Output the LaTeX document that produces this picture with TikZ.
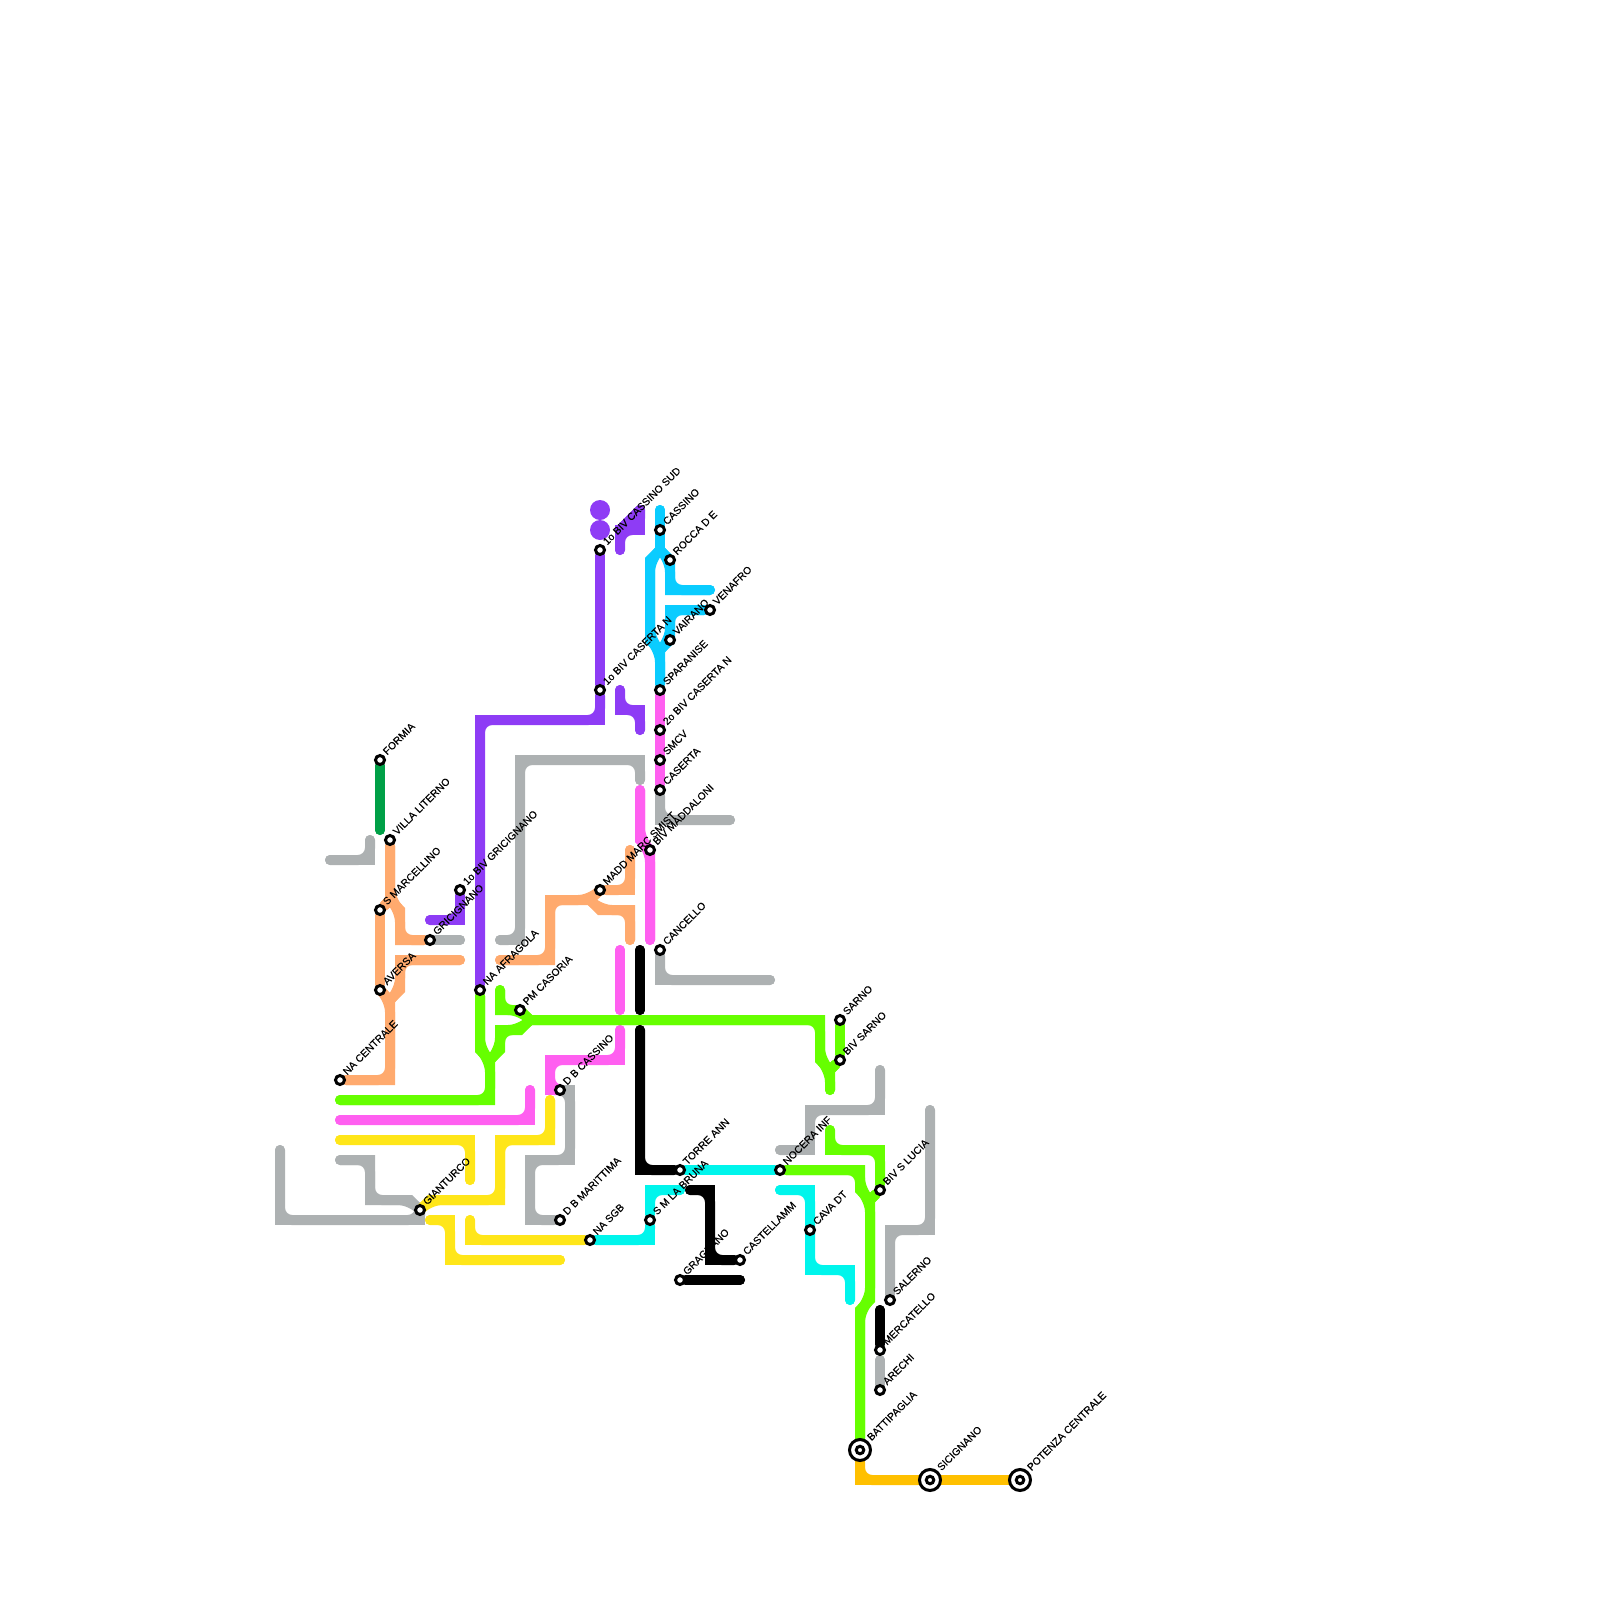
\documentclass[tikz,border=0pt]{standalone}
\usepackage{fontspec}
\setmainfont{Liberation Sans}
\newfontfamily\lblfont[FakeBold=0.25]{Liberation Sans}
\usetikzlibrary{positioning,backgrounds}
\definecolor{lineforest}{HTML}{00A047}
\definecolor{lineorange}{HTML}{FFAA6E}
\definecolor{linepurple}{HTML}{8E3CF5}
\definecolor{lineblue}{HTML}{0ACCFF}
\definecolor{linepink}{HTML}{FF5FF0}
\definecolor{linegreen}{HTML}{66FF00}
\definecolor{lineyellow}{HTML}{FFE619}
\definecolor{linegray}{HTML}{ADB1B2}
\definecolor{linecyan}{HTML}{00F5EC}
\definecolor{lineamber}{HTML}{FFC000}
\tikzset{
  stn/.style    ={circle,draw=black,fill=white,line width=3pt,minimum size=9pt,inner sep=0pt},
  bigstn/.style ={circle,draw=black,fill=white,line width=3pt,minimum size=21pt,inner sep=0pt},
  stnin/.style  ={circle,draw=black,fill=white,line width=3pt,minimum size=7.5pt,inner sep=0pt},
  dot/.style    ={circle,fill=linepurple,minimum size=20pt,inner sep=0pt},
  lbl/.style    ={rotate=45,inner sep=0pt,text depth=0pt,text=black,
                  font=\lblfont\fontsize{10.3}{12}\selectfont},
  tube/.style   ={draw,line width=10pt,line cap=round,line join=miter}
}
\newcommand{\tube}[2]{%
  \draw [tube, #1] #2;
  \draw [tube, #1, rounded corners=12pt] #2;
}
\begin{document}
\begin{tikzpicture}[x=1pt,y=-1pt,node distance=0pt and 3pt]
  \useasboundingbox (0,0) rectangle (1600,1600);

  % Stations
  \node (formia)    [stn] at (380,760)   {};
  \node (villa)     [stn] at (390,840)   {};
  \node (marcel)    [stn] at (380,910)   {};
  \node (bivgric)   [stn] at (460,890)   {};
  \node (gricign)   [stn] at (430,940)   {};
  \node (aversa)    [stn] at (380,990)   {};
  \node (afragola)  [stn] at (480,990)   {};
  \node (casoria)   [stn] at (520,1010)  {};
  \node (centrale)  [stn] at (340,1080)  {};
  \node (dbcassino) [stn] at (560,1090)  {};
  \node (bivsud)    [stn] at (600,550)   {};
  \node (bivnord)   [stn] at (600,690)   {};
  \node (cassino)   [stn] at (660,530)   {};
  \node (rocca)     [stn] at (670,560)   {};
  \node (venafro)   [stn] at (710,610)   {};
  \node (vairano)   [stn] at (670,640)   {};
  \node (sparanise) [stn] at (660,690)   {};
  \node (bivcaserta)[stn] at (660,730)   {};
  \node (smcv)      [stn] at (660,760)   {};
  \node (caserta)   [stn] at (660,790)   {};
  \node (smist)     [stn] at (600,890)   {};
  \node (maddaloni) [stn] at (650,850)   {};
  \node (cancello)  [stn] at (660,950)   {};
  \node (sarno)     [stn] at (840,1020)  {};
  \node (bivsarno)  [stn] at (840,1060)  {};
  \node (gianturco) [stn] at (420,1210)  {};
  \node (marittima) [stn] at (560,1220)  {};
  \node (nasgb)     [stn] at (590,1240)  {};
  \node (torre)     [stn] at (680,1170)  {};
  \node (bruna)     [stn] at (650,1220)  {};
  \node (nocera)    [stn] at (780,1170)  {};
  \node (cava)      [stn] at (810,1230)  {};
  \node (castell)   [stn] at (740,1260)  {};
  \node (gragnano)  [stn] at (680,1280)  {};
  \node (lucia)     [stn] at (880,1190)  {};
  \node (salerno)   [stn] at (890,1300)  {};
  \node (mercat)    [stn] at (880,1350)  {};
  \node (arechi)    [stn] at (880,1390)  {};
  \node (battip)    [bigstn] at (860,1450)  {};
  \node (sicign)    [bigstn] at (930,1480)  {};
  \node (potenza)   [bigstn] at (1020,1480) {};
  \node (battipin)  [stnin, at=(battip.center)]  {};
  \node (sicignin)  [stnin, at=(sicign.center)]  {};
  \node (potenzain) [stnin, at=(potenza.center)] {};
  \node (dota)      [dot] at (600,510) {};
  \node (dotb)      [dot] at (600,530) {};

  % Labels
  \node (formiatxt)    [lbl, above right=of formia]     {FORMIA};
  \node (villatxt)     [lbl, above right=of villa]      {VILLA LITERNO};
  \node (marceltxt)    [lbl, above right=of marcel]     {S MARCELLINO};
  \node (bivgrictxt)   [lbl, above right=of bivgric]    {1o BIV GRICIGNANO};
  \node (gricigntxt)   [lbl, above right=of gricign]    {GRICIGNANO};
  \node (aversatxt)    [lbl, above right=of aversa]     {AVERSA};
  \node (afragolatxt)  [lbl, above right=of afragola]   {NA AFRAGOLA};
  \node (casoriatxt)   [lbl, above right=of casoria]    {PM CASORIA};
  \node (centraletxt)  [lbl, above right=of centrale]   {NA CENTRALE};
  \node (dbcassinotxt) [lbl, above right=of dbcassino]  {D B CASSINO};
  \node (bivsudtxt)    [lbl, above right=of bivsud]     {1o BIV CASSINO SUD};
  \node (bivnordtxt)   [lbl, above right=of bivnord]    {1o BIV CASERTA N};
  \node (cassinotxt)   [lbl, above right=of cassino]    {CASSINO};
  \node (roccatxt)     [lbl, above right=of rocca]      {ROCCA D E};
  \node (venafrotxt)   [lbl, above right=of venafro]    {VENAFRO};
  \node (vairanotxt)   [lbl, above right=of vairano]    {VAIRANO};
  \node (sparanisetxt) [lbl, above right=of sparanise]  {SPARANISE};
  \node (bivcasertatxt)[lbl, above right=of bivcaserta] {2o BIV CASERTA N};
  \node (smcvtxt)      [lbl, above right=of smcv]       {SMCV};
  \node (casertatxt)   [lbl, above right=of caserta]    {CASERTA};
  \node (smisttxt)     [lbl, above right=of smist]      {MADD MARC SMIST};
  \node (maddalonitxt) [lbl, above right=of maddaloni]  {BIV MADDALONI};
  \node (cancellotxt)  [lbl, above right=of cancello]   {CANCELLO};
  \node (sarnotxt)     [lbl, above right=of sarno]      {SARNO};
  \node (bivsarnotxt)  [lbl, above right=of bivsarno]   {BIV SARNO};
  \node (gianturcotxt) [lbl, above right=of gianturco]  {GIANTURCO};
  \node (marittimatxt) [lbl, above right=of marittima]  {D B MARITTIMA};
  \node (nasgbtxt)     [lbl, above right=of nasgb]      {NA SGB};
  \node (torretxt)     [lbl, above right=of torre]      {TORRE ANN};
  \node (brunatxt)     [lbl, above right=of bruna]      {S M LA BRUNA};
  \node (noceratxt)    [lbl, above right=of nocera]     {NOCERA INF};
  \node (cavatxt)      [lbl, above right=of cava]       {CAVA DT};
  \node (castelltxt)   [lbl, above right=of castell]    {CASTELLAMM};
  \node (gragnanotxt)  [lbl, above right=of gragnano]   {GRAGNANO};
  \node (luciatxt)     [lbl, above right=of lucia]      {BIV S LUCIA};
  \node (salernotxt)   [lbl, above right=of salerno]    {SALERNO};
  \node (mercattxt)    [lbl, above right=of mercat]     {MERCATELLO};
  \node (arechitxt)    [lbl, above right=of arechi]     {ARECHI};
  \node (battiptxt)    [lbl, above right=of battip]     {BATTIPAGLIA};
  \node (sicigntxt)    [lbl, above right=of sicign]     {SICIGNANO};
  \node (potenzatxt)   [lbl, above right=of potenza]    {POTENZA CENTRALE};

  % Free ends and junctions
  \coordinate (forestend) at (380,830);
  \coordinate (graya)  at (330,860);  \coordinate (grayb)  at (370,840);
  \coordinate (grayc)  at (500,940);  \coordinate (grayd)  at (640,780);
  \coordinate (graye)  at (340,1160); \coordinate (grayf)  at (280,1150);
  \coordinate (grayg)  at (880,1070); \coordinate (grayh)  at (780,1150);
  \coordinate (grayi)  at (930,1110); \coordinate (grayj)  at (730,820);
  \coordinate (grayk)  at (770,980);  \coordinate (grayl)  at (460,940);
  \coordinate (graym)  at (880,1360);
  \coordinate (orangea) at (460,960); \coordinate (orangeb) at (500,960);
  \coordinate (orangec) at (630,850); \coordinate (oranged) at (630,940);
  \coordinate (orangej) at (390,900); \coordinate (orangek) at (390,1000);
  \coordinate (orangel) at (590,900);
  \coordinate (purplea) at (430,920); \coordinate (purpleb) at (620,550);
  \coordinate (purplec) at (640,510); \coordinate (purpled) at (620,690);
  \coordinate (purplee) at (640,730); \coordinate (purplej) at (620,530);
  \coordinate (bluea) at (660,510);   \coordinate (blueb) at (710,590);
  \coordinate (bluej) at (660,550);   \coordinate (bluek) at (660,650);
  \coordinate (pinka) at (640,790);   \coordinate (pinkb) at (650,940);
  \coordinate (pinkc) at (620,950);   \coordinate (pinkd) at (620,1010);
  \coordinate (pinke) at (620,1030);  \coordinate (pinkf) at (340,1120);
  \coordinate (pinkg) at (530,1090);
  \coordinate (greena) at (340,1100); \coordinate (greenb) at (500,990);
  \coordinate (greenc) at (830,1090); \coordinate (greend) at (830,1130);
  \coordinate (greenj) at (490,1060); \coordinate (greenk) at (530,1020);
  \coordinate (greenl) at (830,1070); \coordinate (greenm) at (870,1200);
  \coordinate (yellowa) at (340,1140); \coordinate (yellowb) at (470,1180);
  \coordinate (yellowc) at (550,1100); \coordinate (yellowd) at (430,1220);
  \coordinate (yellowe) at (560,1260); \coordinate (yellowf) at (470,1220);
  \coordinate (blacka) at (640,950);  \coordinate (blackb) at (640,1010);
  \coordinate (blackc) at (640,1030); \coordinate (blackd) at (690,1190);
  \coordinate (blacke) at (740,1280); \coordinate (blackf) at (880,1310);
  \coordinate (cyana) at (680,1190);  \coordinate (cyanb) at (780,1190);
  \coordinate (cyanc) at (850,1300);

  % Lines
  \begin{scope}[on background layer]
    \tube{linegray}{(graya) -- (370,860) -- (grayb)}
    \tube{linegray}{(grayc) -- (520,940) -- (520,760) -- (640,760) -- (grayd)}
    \tube{linegray}{(gricign) -- (grayl)}
    \tube{linegray}{(caserta) -- (660,820) -- (grayj)}
    \tube{linegray}{(cancello) -- (660,980) -- (grayk)}
    \tube{linegray}{(graye) -- (370,1160) -- (370,1200) -- (410,1200) -- (gianturco)}
    \tube{linegray}{(grayf) -- (280,1220) -- (420,1220) -- (gianturco)}
    \tube{linegray}{(dbcassino) -- (570,1090) -- (570,1160) -- (530,1160) -- (530,1220) -- (marittima)}
    \tube{linegray}{(grayg) -- (880,1110) -- (810,1110) -- (810,1150) -- (grayh)}
    \tube{linegray}{(grayi) -- (930,1230) -- (890,1230) -- (salerno)}
    \tube{linegray}{(graym) -- (arechi)}

    \tube{lineforest}{(formia) -- (forestend)}

    \tube{lineorange}{(villa) -- (orangej) -- (400,910) -- (400,940) -- (gricign)}
    \tube{lineorange}{(marcel) -- (orangej)}
    \tube{lineorange}{(marcel) -- (aversa)}
    \tube{lineorange}{(aversa) -- (orangek) -- (390,1080) -- (centrale)}
    \tube{lineorange}{(orangek) -- (400,990) -- (400,960) -- (orangea)}
    \tube{lineorange}{(orangeb) -- (550,960) -- (550,900) -- (orangel) -- (smist)}
    \tube{lineorange}{(smist) -- (630,890) -- (orangec)}
    \tube{lineorange}{(orangel) -- (600,910) -- (630,910) -- (oranged)}

    \tube{linepurple}{(afragola) -- (480,720) -- (600,720) -- (bivnord)}
    \tube{linepurple}{(bivnord) -- (bivsud)}
    \tube{linepurple}{(bivgric) -- (460,920) -- (purplea)}
    \tube{linepurple}{(purplec) -- (640,530) -- (purplej) -- (purpleb)}
    \tube{linepurple}{(purplej) -- (purplec)}
    \tube{linepurple}{(purpled) -- (620,710) -- (640,710) -- (purplee)}

    \tube{lineblue}{(bluea) -- (bluej)}
    \tube{lineblue}{(bluej) -- (650,560) -- (650,640) -- (bluek) -- (sparanise)}
    \tube{lineblue}{(bluej) -- (670,560) -- (670,590) -- (blueb)}
    \tube{lineblue}{(venafro) -- (670,610) -- (670,640) -- (bluek)}

    \tube{linepink}{(sparanise) -- (caserta)}
    \tube{linepink}{(pinka) -- (640,840) -- (650,850) -- (pinkb)}
    \tube{linepink}{(pinkc) -- (pinkd)}
    \tube{linepink}{(pinke) -- (620,1060) -- (550,1060) -- (550,1090) -- (dbcassino)}
    \tube{linepink}{(pinkf) -- (530,1120) -- (pinkg)}

    \tube{linegreen}{(afragola) -- (480,1050) -- (greenj) -- (490,1100) -- (greena)}
    \tube{linegreen}{(greenj) -- (500,1050) -- (500,1030) -- (520,1030) -- (greenk)}
    \tube{linegreen}{(greenb) -- (500,1010) -- (520,1010) -- (greenk)}
    \tube{linegreen}{(greenk) -- (820,1020) -- (820,1060) -- (greenl) -- (greenc)}
    \tube{linegreen}{(sarno) -- (bivsarno)}
    \tube{linegreen}{(bivsarno) -- (greenl)}
    \tube{linegreen}{(greend) -- (830,1150) -- (880,1150) -- (lucia)}
    \tube{linegreen}{(lucia) -- (greenm)}
    \tube{linegreen}{(nocera) -- (860,1170) -- (860,1190) -- (greenm) -- (870,1300) -- (860,1310) -- (battip)}

    \tube{lineyellow}{(yellowa) -- (470,1140) -- (yellowb)}
    \tube{lineyellow}{(gianturco) -- (430,1200) -- (500,1200) -- (500,1140) -- (550,1140) -- (yellowc)}
    \tube{lineyellow}{(yellowd) -- (450,1220) -- (450,1260) -- (yellowe)}
    \tube{lineyellow}{(yellowf) -- (470,1240) -- (nasgb)}

    \tube{black}{(blacka) -- (blackb)}
    \tube{black}{(blackc) -- (640,1170) -- (torre)}
    \tube{black}{(blackd) -- (710,1190) -- (710,1260) -- (castell)}
    \tube{black}{(gragnano) -- (blacke)}
    \tube{black}{(blackf) -- (mercat)}

    \tube{linecyan}{(torre) -- (nocera)}
    \tube{linecyan}{(cyana) -- (650,1190) -- (bruna)}
    \tube{linecyan}{(bruna) -- (650,1240) -- (nasgb)}
    \tube{linecyan}{(cyanb) -- (810,1190) -- (810,1270) -- (850,1270) -- (cyanc)}

    \tube{lineamber}{(battip) -- (860,1480) -- (sicign)}
    \tube{lineamber}{(sicign) -- (potenza)}
  \end{scope}
\end{tikzpicture}
\end{document}
